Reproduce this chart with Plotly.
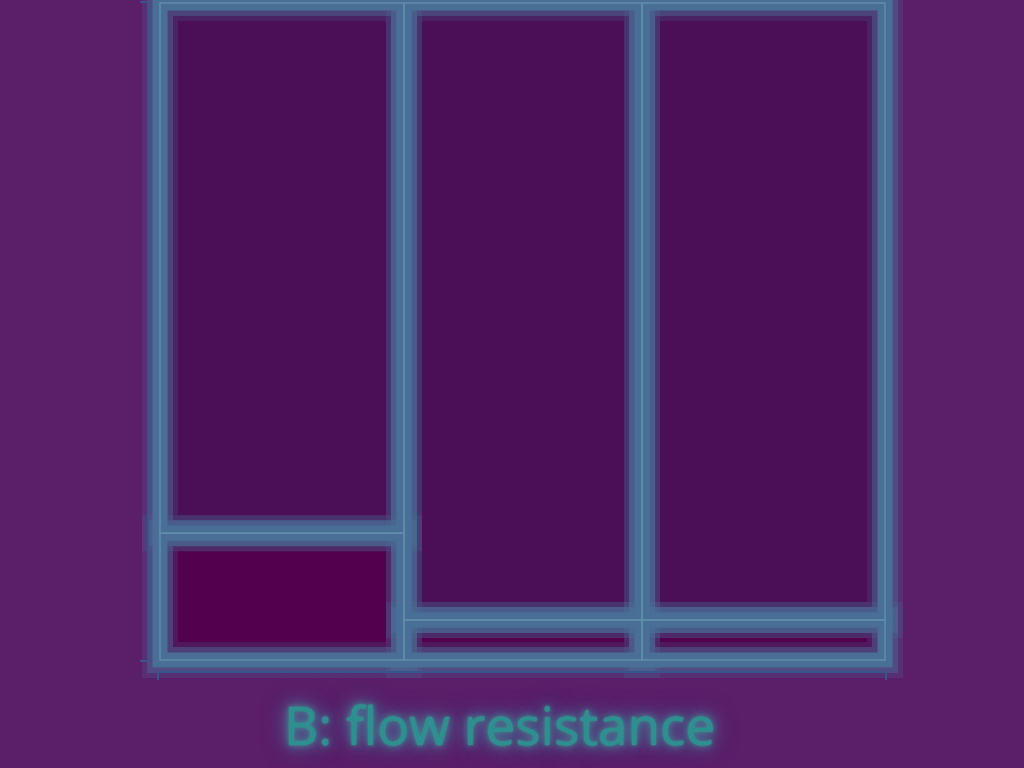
import plotly.graph_objects as go

# Mosaic data: three levels of B (column widths = share of observations)
b_levels = ["B1", "B2", "B3"]
col_share = [0.3365, 0.3285, 0.335]
# share of the lower response category within each column
low_share = [0.193, 0.061, 0.061]
resp_levels = ["low", "high"]
x_title = "B: flow resistance"

PAPER = "#5b1e69"
TILE_TOP = "#4b0f58"
TILE_LOW = "#53004e"
BAND = "74,111,150"

xs, ws, bases, hs, cols = [], [], [], [], []
cum = 0.0
for w, lo in zip(col_share, low_share):
    # lower tile
    xs.append(cum + w / 2); ws.append(w); bases.append(0.0); hs.append(lo); cols.append(TILE_LOW)
    # upper tile
    xs.append(cum + w / 2); ws.append(w); bases.append(lo); hs.append(1 - lo); cols.append(TILE_TOP)
    cum += w

fig = go.Figure()
fig.add_trace(go.Bar(x=xs, y=hs, base=bases, width=ws,
                     marker=dict(color=cols, line=dict(width=0)),
                     hoverinfo="skip", showlegend=False))
glow = [(36, f"rgba({BAND},0.22)"), (26, f"rgba({BAND},0.45)"),
        (15, f"rgb({BAND})"), (1.5, "#5f8fab")]
for lw, lc in glow:
    fig.add_trace(go.Bar(x=xs, y=hs, base=bases, width=ws,
                         marker=dict(color="rgba(0,0,0,0)", line=dict(width=lw, color=lc)),
                         hoverinfo="skip", showlegend=False))

# carrier for the R-style offset axes
fig.add_trace(go.Scatter(x=[0, 1], y=[0, 1], xaxis="x2", yaxis="y2", mode="markers",
                         marker=dict(opacity=0), hoverinfo="skip", showlegend=False))

W, H = 1024, 768
fig.update_layout(
    width=W, height=H, margin=dict(l=0, r=0, t=0, b=0),
    paper_bgcolor=PAPER, plot_bgcolor="rgba(0,0,0,0)", barmode="overlay",
    xaxis=dict(domain=[130 / W, 915 / W], range=[-30 / 725, 1 + 30 / 725],
               showgrid=False, zeroline=False, showline=False, showticklabels=False, ticks=""),
    yaxis=dict(domain=[1 - 690 / H, 1], range=[-30 / 657, 1 + 3 / 657],
               showgrid=False, zeroline=False, showline=False, showticklabels=False, ticks=""),
    xaxis2=dict(domain=[158 / W, 886 / W], range=[0, 1], anchor="free", position=1 - 672 / H,
                showgrid=False, zeroline=False, showline=True, linecolor="#37548c", linewidth=1.5,
                ticks="outside", ticklen=7, tickcolor="#37548c", tickwidth=1.5,
                tickvals=[0, 1], showticklabels=False),
    yaxis2=dict(domain=[1 - 661 / H, 1 - 2 / H], range=[0, 1], anchor="free", position=148 / W,
                showgrid=False, zeroline=False, showline=True, linecolor="#37548c", linewidth=1.5,
                ticks="outside", ticklen=7, tickcolor="#37548c", tickwidth=1.5,
                tickvals=[0, 1], showticklabels=False),
    annotations=[dict(text=x_title, xref="paper", yref="paper", x=499 / W, y=1 - 724 / H,
                      xanchor="center", yanchor="middle", showarrow=False,
                      font=dict(family="Open Sans", size=53, color="#2c9090",
                                shadow="0px 0px 2px #36a88a, 0px 0px 6px #3f8a92, 0px 0px 12px #4a7398, 0px 0px 18px #4a6f96, 0px 0px 26px #4a6f96"))],
)
fig.write_html("out.html")
